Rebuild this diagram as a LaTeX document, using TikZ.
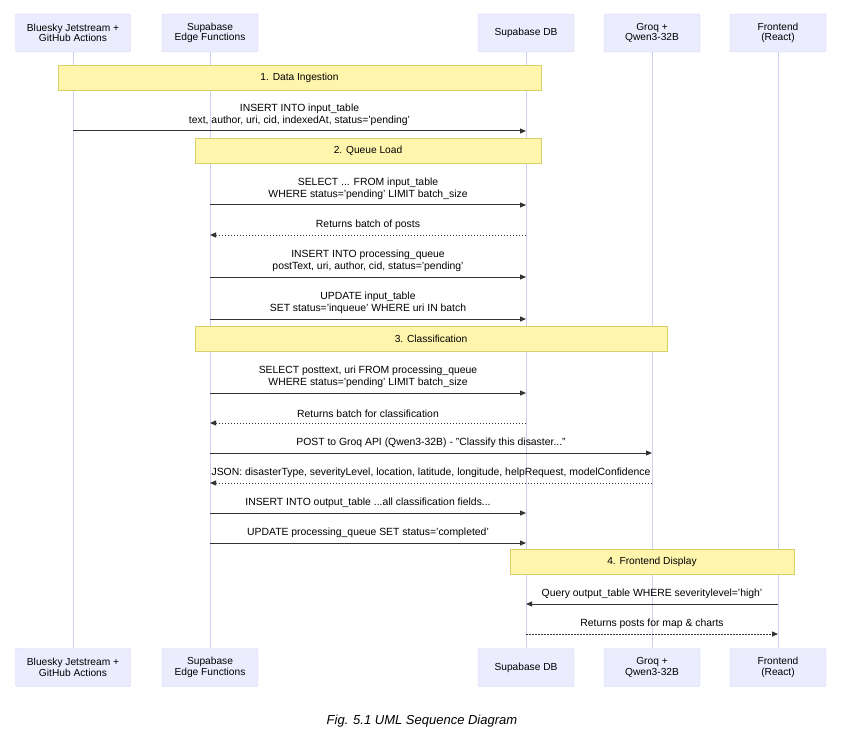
\documentclass[tikz,border=0pt]{standalone}
\usepackage{fontspec}
\setmainfont{Liberation Sans}
\usetikzlibrary{arrows.meta}
\definecolor{actfill}{HTML}{ECECFF}
\definecolor{actline}{HTML}{CFCFF5}
\definecolor{notefill}{HTML}{FFF5AD}
\definecolor{noteline}{HTML}{D6CF6A}
\definecolor{msgline}{HTML}{333333}
\newcommand{\seqmsg}[5]{%
  \coordinate (m#5a) at (#1,#3);
  \coordinate (m#5b) at (#2,#3);
  \draw[msg, #4] (m#5a) -- (m#5b);}
\begin{document}
\begin{tikzpicture}[x=1pt, y=-1pt,
    actor/.style={rectangle, draw=actline, fill=actfill, rounded corners=1.5pt,
      minimum width=96pt, minimum height=38pt, align=center, font=\fontsize{10.2}{10.5}\selectfont},
    note/.style={rectangle, draw=noteline, fill=notefill, minimum height=25pt,
      inner sep=0pt, font=\fontsize{10.2}{11}\selectfont},
    lbl/.style={align=center, font=\fontsize{10.4}{12}\selectfont, anchor=south, inner sep=1.5pt},
    msg/.style={draw=msgline, line width=1pt, -{Triangle[length=6pt, width=5pt]}},
    ret/.style={dash pattern=on 1.5pt off 1.5pt},
    life/.style={draw=actline, line width=0.9pt}
  ]
  \useasboundingbox (0,0) rectangle (844,749);

  % Actors
  \foreach \name/\x/\w/\txt in {bs/73/115/{Bluesky Jetstream +\\GitHub Actions},
      ef/210/96/{Supabase\\Edge Functions}, db/526/96/{Supabase DB},
      gq/652/96/{Groq +\\Qwen3-32B}, fe/778/96/{Frontend\\(React)}} {
    \node[actor, minimum width=\w pt] (\name top) at (\x,33) {\txt};
    \node[actor, minimum width=\w pt] (\name bot) at (\x,667.5) {\txt};
    \draw[life] (\name top) -- (\name bot);
  }

  % Notes
  \node[note, minimum width=483pt] (n1) at (299.5,77.5) {1. Data Ingestion};
  \node[note, minimum width=346pt] (n2) at (368,150.5) {2. Queue Load};
  \node[note, minimum width=472pt] (n3) at (431,338.5) {3. Classification};
  \node[note, minimum width=284pt] (n4) at (652,561.5) {4. Frontend Display};

  % Messages
  \seqmsg{73}{526}{131}{}{1}
  \node[lbl] at (299.5,127) {INSERT INTO input\_table\\text, author, uri, cid, indexedAt, status='pending'};
  \seqmsg{210}{526}{205}{}{2}
  \node[lbl] at (368,201) {SELECT ... FROM input\_table\\WHERE status='pending' LIMIT batch\_size};
  \seqmsg{526}{210}{235}{ret}{3}
  \node[lbl] at (368,231) {Returns batch of posts};
  \seqmsg{210}{526}{277}{}{4}
  \node[lbl] at (368,273) {INSERT INTO processing\_queue\\postText, uri, author, cid, status='pending'};
  \seqmsg{210}{526}{319}{}{5}
  \node[lbl] at (368,315) {UPDATE input\_table\\SET status='inqueue' WHERE uri IN batch};
  \seqmsg{210}{526}{393}{}{6}
  \node[lbl] at (368,389) {SELECT posttext, uri FROM processing\_queue\\WHERE status='pending' LIMIT batch\_size};
  \seqmsg{526}{210}{423}{ret}{7}
  \node[lbl] at (368,419) {Returns batch for classification};
  \seqmsg{210}{652}{453}{}{8}
  \node[lbl] at (431,449) {POST to Groq API (Qwen3-32B) - "Classify this disaster..."};
  \seqmsg{652}{210}{483}{ret}{9}
  \node[lbl] at (431,479) {JSON: disasterType, severityLevel, location, latitude, longitude, helpRequest, modelConfidence};
  \seqmsg{210}{526}{513}{}{10}
  \node[lbl] at (368,509) {INSERT INTO output\_table ...all classification fields...};
  \seqmsg{210}{526}{543}{}{11}
  \node[lbl] at (368,539) {UPDATE processing\_queue SET status='completed'};
  \seqmsg{778}{526}{604}{}{12}
  \node[lbl] at (652,600) {Query output\_table WHERE severitylevel='high'};
  \seqmsg{526}{778}{634}{ret}{13}
  \node[lbl] at (652,630) {Returns posts for map \& charts};

  % Caption
  \node[font=\itshape\fontsize{13}{15}\selectfont] (cap) at (422,721) {Fig. 5.1 UML Sequence Diagram};
\end{tikzpicture}
\end{document}
